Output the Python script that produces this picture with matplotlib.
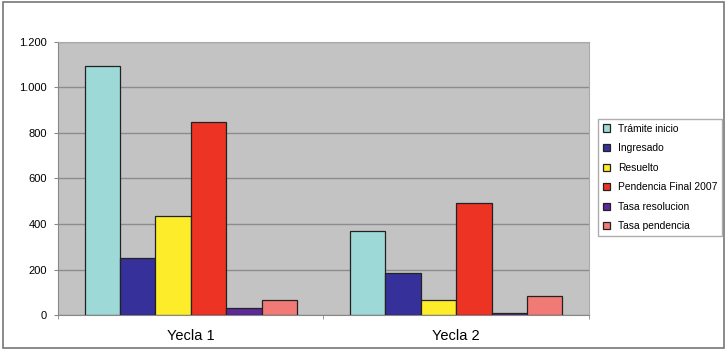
import matplotlib.pyplot as plt
import numpy as np
from matplotlib.ticker import FuncFormatter
from matplotlib.patches import Rectangle

categories = ['Yecla 1', 'Yecla 2']
series = ['Trámite inicio', 'Ingresado', 'Resuelto', 'Pendencia Final 2007',
          'Tasa resolucion', 'Tasa pendencia']
values = [
    [1095, 371],   # Trámite inicio
    [251, 185],    # Ingresado
    [437, 66],     # Resuelto
    [847, 494],    # Pendencia Final 2007
    [31, 9],       # Tasa resolucion
    [66, 84],      # Tasa pendencia
]
colors = ['#9dd9d6', '#35309a', '#fcec2a', '#ec3324', '#5b2a96', '#f27a76']

fig = plt.figure(figsize=(7.25, 3.49), dpi=100)
ax = fig.add_axes([0.08, 0.0974, 0.7324, 0.7823])
ax.set_facecolor('#c3c3c3')

x = np.arange(len(categories))
w = 0.8 / len(series)
bars = []
for i, (name, vals) in enumerate(zip(series, values)):
    b = ax.bar(x - 0.4 + w * (i + 0.5), vals, width=w, color=colors[i],
               edgecolor='#222222', linewidth=0.9, label=name, zorder=3)
    bars.append(b)

ax.set_xlim(-0.5, 1.5)
ax.set_ylim(0, 1200)
ax.set_yticks(np.arange(0, 1201, 200))
ax.yaxis.set_major_formatter(FuncFormatter(lambda v, p: f'{int(v):,}'.replace(',', '.')))
ax.grid(axis='y', color='#8c8c8c', linewidth=1.0, zorder=1)
ax.set_xticks(x)
ax.set_xticklabels(categories, fontsize=10.5, family='Liberation Sans')
ax.set_xticks([-0.5, 0.5, 1.5], minor=True)
ax.tick_params(axis='x', which='major', length=0, pad=10)
ax.tick_params(axis='x', which='minor', length=3, color='#888888')
ax.tick_params(axis='y', length=3, color='#888888', labelsize=8, pad=5)
for lab in ax.get_yticklabels():
    lab.set_family('Liberation Sans')
for s in ['top', 'right']:
    ax.spines[s].set_color('#aaaaaa')
    ax.spines[s].set_linewidth(0.8)
for s in ['left', 'bottom']:
    ax.spines[s].set_color('#888888')
    ax.spines[s].set_linewidth(0.8)

leg = fig.legend(handles=bars, labels=series, loc='upper left',
                 bbox_to_anchor=(0.825, 0.659), frameon=True,
                 fancybox=False, edgecolor='#999999', handlelength=0.7,
                 handleheight=0.7, handletextpad=0.75, labelspacing=0.93,
                 borderpad=0.45, borderaxespad=0,
                 prop={'family': 'Liberation Sans', 'size': 7.4})

fig.patches.append(Rectangle((0.004, 0.004), 0.995, 0.99, transform=fig.transFigure,
                             fill=False, edgecolor='#777777', linewidth=1.2))

fig.savefig('out.png', dpi=100)
